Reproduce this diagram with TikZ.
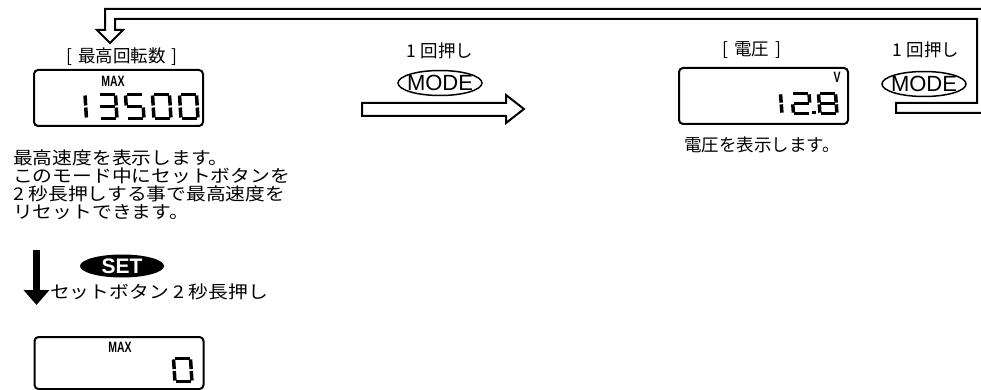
\documentclass[tikz,border=0pt]{standalone}
\usepackage{fontspec}
\setmainfont{Noto Sans CJK JP}
\newfontfamily\latinfont{Liberation Sans}
\usetikzlibrary{shapes.geometric,arrows.meta}

\tikzset{
  lcdbox/.style={draw,line width=2pt,rounded corners=4pt,minimum width=169pt,inner sep=0pt},
  lcdseg/.style={line width=3.5pt},
  lcdtag/.style={inner sep=0pt,font=\latinfont\bfseries\fontsize{15}{15}\selectfont},
  jptext/.style={inner sep=0pt,font=\fontsize{17.5}{18}\selectfont},
  modebtn/.style={draw,ellipse,line width=1.5pt,minimum width=84pt,minimum height=25pt,inner sep=0pt,font=\latinfont\fontsize{22}{22}\selectfont},
  setbtn/.style={fill=black,ellipse,minimum width=84pt,minimum height=23pt,inner sep=0pt,text=white,font=\latinfont\bfseries\fontsize{21}{21}\selectfont},
  hollow/.style={draw,line width=2pt,fill=white,line join=miter}
}

\newcommand{\lcdsega}{\draw[lcdseg] (1,0) -- (16,0);}
\newcommand{\lcdsegb}{\draw[lcdseg] (17,1) -- (17,11);}
\newcommand{\lcdsegc}{\draw[lcdseg] (17,13) -- (17,23);}
\newcommand{\lcdsegd}{\draw[lcdseg] (1,24) -- (16,24);}
\newcommand{\lcdsege}{\draw[lcdseg] (0,13) -- (0,23);}
\newcommand{\lcdsegf}{\draw[lcdseg] (0,1) -- (0,11);}
\newcommand{\lcdsegg}{\draw[lcdseg] (1,12) -- (16,12);}
\newcommand{\lcdnum}[4][1]{%
  \begin{scope}[shift={(#2,#3)},yscale=#1,xslant=-0.06]
    \foreach \s in {#4} {\csname lcdseg\s\endcsname}
  \end{scope}}

\begin{document}
\begin{tikzpicture}[x=1pt,y=-1pt]

\useasboundingbox (0,0) rectangle (981,390);

\draw[hollow,fill=none] (990,113) -- (896,113) -- (896,103) -- (977,103) -- (977,19) -- (115,19) -- (115,30) -- (123,30) -- (110,43) -- (97,30) -- (105,30) -- (105,9) -- (990,9);

\node[jptext] (maxlabel) at (122,57) {[\hspace{6pt}最高回転数\hspace{6pt}]};
\node[lcdbox,minimum height=56pt] (maxbox) at (118.5,98) {};
\node[lcdtag] (maxtag) at (113,81) {\scalebox{0.7}[1]{MAX}};
\lcdnum{68}{94.5}{b,c}
\lcdnum{98.5}{94.5}{a,b,c,d,g}
\lcdnum{125.5}{94.5}{a,c,d,f,g}
\lcdnum{152.5}{94.5}{a,b,c,d,e,f}
\lcdnum{179.5}{94.5}{a,b,c,d,e,f}

\node[jptext,anchor=north west,align=left] (maxnote) at (13,150) {\scalebox{1.13}[1]{最高速度を表示します。}\\\scalebox{1.13}[1]{このモード中にセットボタンを}\\\scalebox{1.13}[1]{2 秒長押しする事で最高速度を}\\\scalebox{1.13}[1]{リセットできます。}};

\node[jptext] (press1) at (440,51) {1 回押し};
\node[modebtn] (mode1) at (440,83) {\makebox[0pt]{MODE}};
\draw[hollow] (362,103) -- (506,103) -- (506,95) -- (524,109) -- (506,123) -- (506,116) -- (362,116) -- cycle;

\node[jptext] (voltlabel) at (752,50) {[\hspace{6pt}電圧\hspace{6pt}]};
\node[lcdbox,minimum height=56pt] (voltbox) at (763.5,96) {};
\node[lcdtag] (volttag) at (837,77) {\scalebox{0.7}[1]{V}};
\lcdnum[0.833]{763.5}{93.5}{b,c}
\lcdnum[0.833]{792}{93.5}{a,b,d,e,g}
\fill (812,111) rectangle (815.5,114.5);
\lcdnum[0.833]{818.5}{93.5}{a,b,c,d,e,f,g}
\node[jptext] (voltnote) at (762,145) {電圧を表示します。};

\node[jptext] (press2) at (926,50) {1 回押し};
\node[modebtn] (mode2) at (924,84) {\makebox[0pt]{MODE}};

\coordinate (setfrom) at (36.5,250);
\coordinate (setto) at (36.5,305);
\draw[line width=7pt,-{Triangle[length=15pt,width=25pt]}] (setfrom) -- (setto);
\node[setbtn] (setkey) at (122,266) {\makebox[0pt]{SET}};
\node[jptext,anchor=west] (setnote) at (50,292) {\scalebox{1.13}[1]{セットボタン 2 秒長押し}};

\node[lcdbox,minimum height=52pt] (resetbox) at (119,363) {};
\node[lcdtag] (resettag) at (120,347) {\scalebox{0.7}[1]{MAX}};
\lcdnum[0.958]{173.5}{358.5}{a,b,c,d,e,f}

\end{tikzpicture}
\end{document}
